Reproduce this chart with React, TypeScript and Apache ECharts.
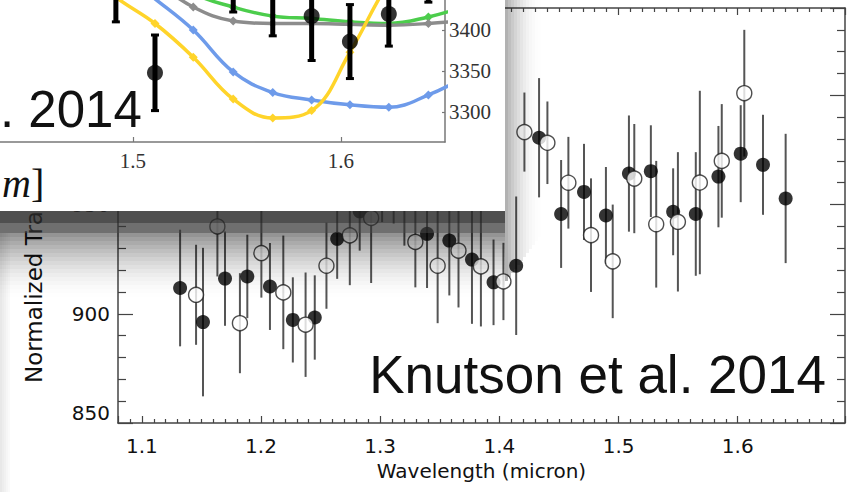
import React, { useEffect, useRef } from 'react';
import * as echarts from 'echarts';

// ---------- Main chart (Knutson et al. 2014) ----------
const filledWave = [1.1321, 1.1513, 1.1698, 1.1885, 1.2075, 1.2267, 1.2451, 1.2639, 1.2828, 1.3016, 1.3203, 1.3393, 1.358, 1.377, 1.3951, 1.4141, 1.4333, 1.4518, 1.471, 1.4894, 1.5087, 1.5271, 1.5458, 1.5648, 1.5838, 1.6025, 1.6212, 1.6402];
const filledDepth = [911.8, 896.2, 916.1, 917.1, 912.5, 897.2, 898.3, 934.3, 946.9, 957, 955, 936.6, 933.5, 924.8, 914.4, 922.0, 980.6, 945.7, 955.8, 945.0, 964.2, 965.3, 946.7, 945.7, 962.8, 973.3, 968.2, 952.8];
const filledErr = [26.7, 34, 21.6, 19.1, 19.9, 19.5, 19.3, 18.3, 18, 15, 23.8, 24.8, 25.1, 29.4, 19.6, 31.7, 27.3, 24.7, 22, 22.2, 26.6, 21, 19.9, 28.3, 23.2, 22.2, 22.9, 29.6];

const openWave = [1.1455, 1.1634, 1.1823, 1.2003, 1.2187, 1.2374, 1.2549, 1.2745, 1.2924, 1.3113, 1.3295, 1.3482, 1.3657, 1.3845, 1.4034, 1.421, 1.4403, 1.4579, 1.4769, 1.4951, 1.5132, 1.5316, 1.5498, 1.5682, 1.5866, 1.6055];
const openDepth = [908.7, 940.0, 895.7, 927.8, 909.8, 895.0, 922.0, 935.9, 943.9, 962.0, 932.9, 922.0, 928.9, 921.7, 914.8, 983.2, 978.3, 960.0, 936.0, 924.0, 961.9, 941.0, 942.1, 960.1, 970.0, 1001.0];
const openErr = [22.9, 22.9, 22.9, 20.4, 26, 23.9, 19.7, 22.8, 29.8, 20.7, 20.8, 26.3, 26, 27.5, 17.7, 18.1, 18.9, 21, 26, 26, 25, 29, 31.9, 42, 26, 29];

const mainYTicksShown = [850, 900, 950];

// ---------- Inset ----------
const insetWave = [1.473, 1.4918, 1.5106, 1.529, 1.5482, 1.5672, 1.5859, 1.6043, 1.623, 1.642, 1.661];
const modelYellow = [3480, 3440, 3408, 3367, 3316, 3293, 3302, 3373, 3458, 3520, 3560];
const modelBlue = [3510, 3475, 3438, 3400, 3349, 3324, 3315, 3309, 3306, 3321, 3345];
const modelGray = [3540, 3500, 3460, 3428, 3411, 3408, 3408, 3407, 3406, 3408, 3412];
const modelGreen = [3560, 3520, 3480, 3445, 3428, 3417, 3414, 3410, 3408, 3416, 3430];

const insetObsWave = [1.4918, 1.5106, 1.5482, 1.5672, 1.5859, 1.6043, 1.623, 1.642];
const insetObsDepth = [3452, 3348, 3464, 3439, 3417, 3386, 3419.5, 3476];
const insetObsErr = [42, 46, 42, 46, 54, 45, 39, 42];

const SANS = '"DejaVu Sans", sans-serif';
const SERIF = '"Liberation Serif", serif';
const BIG = '"Liberation Sans", Arial, sans-serif';

export default function App() {
  const ref = useRef<HTMLDivElement>(null);

  useEffect(() => {
    if (!ref.current) return;
    const chart = echarts.init(ref.current, undefined, { renderer: 'svg' });

    const zip3 = (a: number[], b: number[], c: number[]) => a.map((v, i) => [v, b[i], c[i]]);
    const zip2 = (a: number[], b: number[]) => a.map((v, i) => [v, b[i]]);

    const thinBars = (params: any, api: any) => {
      const x = api.value(0), y = api.value(1), e = api.value(2);
      const p1 = api.coord([x, y - e]);
      const p2 = api.coord([x, y + e]);
      return {
        type: 'line',
        shape: { x1: p1[0], y1: p1[1], x2: p2[0], y2: p2[1] },
        style: { stroke: '#555', lineWidth: 2 },
      };
    };
    const thickBars = (params: any, api: any) => {
      const x = api.value(0), y = api.value(1), e = api.value(2);
      const p1 = api.coord([x, y - e]);
      const p2 = api.coord([x, y + e]);
      return {
        type: 'group',
        children: [
          { type: 'line', shape: { x1: p1[0], y1: p1[1], x2: p2[0], y2: p2[1] }, style: { stroke: '#000', lineWidth: 5 } },
          { type: 'line', shape: { x1: p1[0] - 4, y1: p1[1], x2: p1[0] + 4, y2: p1[1] }, style: { stroke: '#000', lineWidth: 3 } },
          { type: 'line', shape: { x1: p2[0] - 4, y1: p2[1], x2: p2[0] + 4, y2: p2[1] }, style: { stroke: '#000', lineWidth: 3 } },
        ],
      };
    };

    const frameLine = { show: true, lineStyle: { color: '#444', width: 1.5 } };
    const tickStyle = { color: '#444', width: 1.2 };

    const modelLine = (name: string, color: string, data: number[], z: number) => ({
      name,
      type: 'line',
      xAxisIndex: 2,
      yAxisIndex: 2,
      data: zip2(insetWave, data),
      smooth: 0.4,
      symbol: 'diamond',
      symbolSize: 9,
      showSymbol: true,
      clip: true,
      z,
      lineStyle: { color, width: 3.5 },
      itemStyle: { color },
    });

    // stepped soft shadow of the inset panel (drawn as thin translucent strips)
    const shadow: any[] = [];
    shadow.push({
      type: 'rect', z: 10, shape: { x: 0, y: 211, width: 505, height: 12 },
      style: { fill: 'rgba(40,40,40,0.82)' },
    });
    shadow.push({
      type: 'rect', z: 10, shape: { x: 0, y: 223, width: 505, height: 10 },
      style: { fill: 'rgba(50,50,50,0.7)' },
    });
    const nDown = 16;
    for (let i = 0; i < nDown; i++) {
      const a = 0.42 * Math.pow(1 - i / nDown, 1.8);
      shadow.push({
        type: 'rect', z: 10, shape: { x: 0, y: 233 + i * 4, width: 505, height: 4 },
        style: { fill: `rgba(0,0,0,${a.toFixed(3)})` },
      });
    }
    const nRight = 12;
    for (let i = 0; i < nRight; i++) {
      const a = 0.3 * Math.pow(1 - i / nRight, 2);
      shadow.push({
        type: 'rect', z: 10, shape: { x: 505 + i * 3, y: 0, width: 3, height: 233 + (nRight - i) * 4 },
        style: { fill: `rgba(0,0,0,${a.toFixed(3)})` },
      });
    }
    for (let i = 0; i < 5; i++) {
      shadow.push({
        type: 'rect', z: 10, shape: { x: i * 2, y: 233, width: 2, height: 259 },
        style: { fill: `rgba(0,0,0,${(0.09 * (1 - i / 5)).toFixed(3)})` },
      });
    }

    const option: any = {
      animation: false,
      grid: [
        { left: 118, right: 4, top: 8, bottom: 69, show: false },
        { left: 0, right: 404, top: 0, bottom: 350, show: false, z: 12 },
      ],
      xAxis: [
        {
          gridIndex: 0, type: 'value', position: 'bottom', min: 1.08, max: 1.69,
          axisLine: frameLine,
          axisTick: { show: true, inside: true, length: 7, lineStyle: tickStyle },
          minorTick: { show: true, splitNumber: 10, length: 4, lineStyle: tickStyle },
          splitLine: { show: false },
          axisLabel: {
            showMinLabel: false, showMaxLabel: false, margin: 13,
            fontSize: 20, fontFamily: SANS, color: '#111',
            formatter: (v: number) => v.toFixed(1),
          },
          name: 'Wavelength (micron)', nameLocation: 'middle', nameGap: 37,
          nameTextStyle: { fontSize: 20, fontFamily: SANS, color: '#111' },
        },
        {
          gridIndex: 0, type: 'value', position: 'top', min: 1.08, max: 1.69,
          axisLine: frameLine,
          axisTick: { show: true, inside: true, length: 7, lineStyle: tickStyle },
          minorTick: { show: true, splitNumber: 10, length: 4, lineStyle: tickStyle },
          splitLine: { show: false },
          axisLabel: { show: false },
        },
        {
          gridIndex: 1, type: 'value', position: 'bottom', min: 1.4361, max: 1.65, splitNumber: 2,
          z: 14,
          axisLine: { show: true, lineStyle: { color: '#777', width: 1.5 } },
          axisTick: { show: true, inside: true, length: 5, lineStyle: { color: '#777', width: 1.2 } },
          splitLine: { show: false },
          axisLabel: {
            showMinLabel: false, showMaxLabel: false, margin: 8,
            fontSize: 21, fontFamily: SERIF, color: '#333',
            formatter: (v: number) => v.toFixed(1),
          },
        },
      ],
      yAxis: [
        {
          gridIndex: 0, type: 'value', position: 'left', min: 850, max: 1040, interval: 50,
          axisLine: frameLine,
          axisTick: { show: true, inside: true, length: 15, lineStyle: tickStyle },
          minorTick: { show: true, splitNumber: 5, length: 8, lineStyle: tickStyle },
          splitLine: { show: false },
          axisLabel: {
            showMaxLabel: false, margin: 8, verticalAlignMinLabel: 'bottom',
            fontSize: 20, fontFamily: SANS, color: '#111',
            formatter: (v: number) => (mainYTicksShown.indexOf(v) >= 0 ? String(v) : ''),
          },
        },
        {
          gridIndex: 0, type: 'value', position: 'right', min: 850, max: 1040, interval: 50,
          axisLine: frameLine,
          axisTick: { show: true, inside: true, length: 15, lineStyle: tickStyle },
          minorTick: { show: true, splitNumber: 5, length: 8, lineStyle: tickStyle },
          splitLine: { show: false },
          axisLabel: { show: false },
        },
        {
          gridIndex: 1, type: 'value', position: 'right', min: 3263.8, max: 3436.6, splitNumber: 3,
          z: 14,
          axisLine: { show: true, lineStyle: { color: '#777', width: 1.5 } },
          axisTick: { show: true, inside: true, length: 3, lineStyle: { color: '#777', width: 1.2 } },
          splitLine: { show: false },
          axisLabel: {
            showMinLabel: false, showMaxLabel: false, margin: 4,
            fontSize: 21, fontFamily: SERIF, color: '#333',
            formatter: (v: number) => String(v),
          },
        },
      ],
      series: [
        {
          name: 'filled-err', type: 'custom', xAxisIndex: 0, yAxisIndex: 0, z: 3,
          data: zip3(filledWave, filledDepth, filledErr), renderItem: thinBars,
          encode: { x: 0, y: 1 },
        },
        {
          name: 'open-err', type: 'custom', xAxisIndex: 0, yAxisIndex: 0, z: 3,
          data: zip3(openWave, openDepth, openErr), renderItem: thinBars,
          encode: { x: 0, y: 1 },
        },
        {
          name: 'filled', type: 'scatter', xAxisIndex: 0, yAxisIndex: 0, z: 4,
          data: zip2(filledWave, filledDepth), symbol: 'circle', symbolSize: 14,
          itemStyle: { color: '#000' },
        },
        {
          name: 'open', type: 'scatter', xAxisIndex: 0, yAxisIndex: 0, z: 5,
          data: zip2(openWave, openDepth), symbol: 'circle', symbolSize: 15,
          itemStyle: { color: '#fff', borderColor: '#222', borderWidth: 1.4 },
        },
        modelLine('green', '#4ccd4c', modelGreen, 14),
        modelLine('gray', '#8c8c8c', modelGray, 15),
        modelLine('blue', '#6e9bea', modelBlue, 16),
        modelLine('yellow', '#ffd42a', modelYellow, 17),
        {
          name: 'inset-err', type: 'custom', xAxisIndex: 2, yAxisIndex: 2, z: 18,
          data: zip3(insetObsWave, insetObsDepth, insetObsErr), renderItem: thickBars,
          encode: { x: 0, y: 1 },
        },
        {
          name: 'inset-obs', type: 'scatter', xAxisIndex: 2, yAxisIndex: 2, z: 19,
          data: zip2(insetObsWave, insetObsDepth), symbol: 'circle', symbolSize: 16,
          itemStyle: { color: '#000' },
        },
      ],
      graphic: {
        elements: [
          {
            type: 'text', x: 34, y: 383, rotation: Math.PI / 2, z: 5,
            style: { text: 'Normalized Transit Depth (ppm)', fontSize: 23, fontFamily: SANS, fill: '#111', align: 'left', verticalAlign: 'middle' },
          },
          {
            type: 'text', x: 826, y: 374, z: 5,
            style: { text: 'Knutson et al. 2014', fontSize: 53, fontFamily: BIG, fill: '#111', align: 'right', verticalAlign: 'middle' },
          },
          ...shadow,
          // inset panel
          {
            type: 'rect', z: 11, shape: { x: 0, y: 0, width: 505, height: 211 },
            style: { fill: '#ffffff' },
          },
          {
            type: 'text', x: 0, y: 109, z: 20,
            style: { text: '. 2014', fontSize: 51, fontFamily: BIG, fill: '#111', align: 'left', verticalAlign: 'middle' },
          },
          {
            type: 'text', x: 2, y: 183, z: 20,
            style: {
              text: '{i|m}]', fontSize: 40, fontFamily: SERIF, fill: '#111', align: 'left', verticalAlign: 'middle',
              rich: { i: { fontStyle: 'italic', fontSize: 40, fontFamily: SERIF, fill: '#111' } },
            },
          },
        ],
      },
    };

    chart.setOption(option);
    return () => chart.dispose();
  }, []);

  return (
    <div
      ref={ref}
      style={{ position: 'fixed', left: 0, top: 0, width: 849, height: 492, background: '#fff' }}
    />
  );
}
